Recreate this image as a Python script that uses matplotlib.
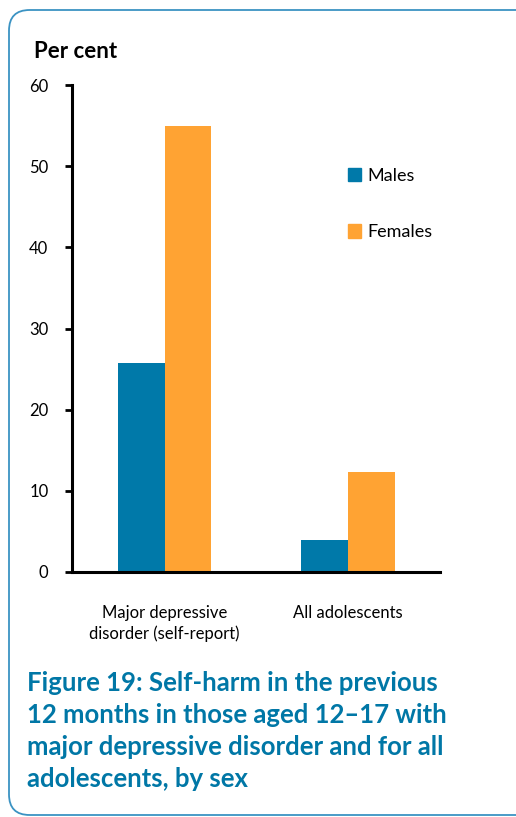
import matplotlib.pyplot as plt
from matplotlib.patches import FancyBboxPatch, Patch
import numpy as np

plt.rcParams['font.family'] = ['Lato', 'DejaVu Sans']

# survey results, per cent
groups = ["Major depressive\ndisorder (self-report)", "All adolescents"]
males = [25.8, 4.0]
females = [54.9, 12.3]
yticks = [0, 10, 20, 30, 40, 50, 60]

blue = "#0079A9"
orange = "#FFA333"
caption_col = "#0077A6"

fig = plt.figure(figsize=(5.16, 8.17), dpi=100)
W, H = 516, 817

# rounded frame around the whole figure
frame = FancyBboxPatch((9 / W, 1 - 815 / H), 535 / W, 805 / H,
                       boxstyle="round,pad=0,rounding_size=0.04",
                       transform=fig.transFigure, fill=False,
                       edgecolor="#3B93C3", linewidth=1.3,
                       mutation_aspect=W / H, clip_on=False)
fig.patches.append(frame)

ax = fig.add_axes([72 / W, 1 - 572 / H, (440 - 72) / W, (572 - 85) / H])

x = np.arange(len(groups))
w = 0.255
ax.bar(x - w / 2, males, width=w, color=blue, label="Males", zorder=2)
ax.bar(x + w / 2, females, width=w, color=orange, label="Females", zorder=2)

ax.set_xlim(-0.505, 1.5)
ax.set_ylim(0, 60)
ax.set_yticks(yticks)
ax.set_yticklabels([str(t) for t in yticks], fontsize=12)
ax.set_xticks(x)
ax.set_xticklabels(groups, fontsize=12, linespacing=1.3)
ax.tick_params(axis="x", length=0, pad=24)
ax.tick_params(axis="y", length=5, width=2, direction="out", pad=12)

for s in ["top", "right"]:
    ax.spines[s].set_visible(False)
for s in ["left", "bottom"]:
    ax.spines[s].set_linewidth(2.2)

fig.text(34 / W, 1 - 52 / H, "Per cent", fontsize=16, fontweight="bold",
         va="center", ha="left")

handles = [Patch(color=blue, label="Males"), Patch(color=orange, label="Females")]
ax.legend(handles=handles, frameon=False, fontsize=13,
          loc="upper left", bbox_to_anchor=(0.73, 0.845),
          handlelength=0.75, handleheight=0.75, handletextpad=0.35,
          labelspacing=2.25, borderaxespad=0)

fig.text(27 / W, 1 - 671 / H,
         "Figure 19: Self-harm in the previous\n"
         "12 months in those aged 12\u201317 with\n"
         "major depressive disorder and for all\n"
         "adolescents, by sex",
         fontsize=18.5, fontweight="bold", color=caption_col,
         va="top", ha="left", linespacing=1.4)

fig.savefig("out.png", dpi=100)
